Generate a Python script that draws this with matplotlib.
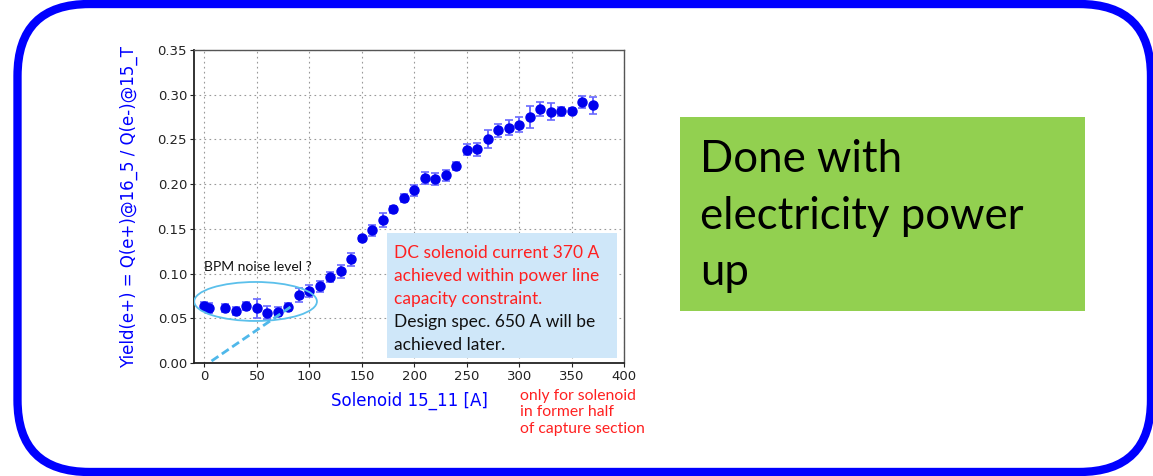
import matplotlib
matplotlib.use("Agg")
import matplotlib.pyplot as plt
from matplotlib.patches import FancyBboxPatch, Rectangle, Ellipse

# ---------------------------------------------------------------------------
# Data
# ---------------------------------------------------------------------------
current = [0, 4, 20, 30, 40, 50, 60, 70, 80, 90,
           100, 110, 120, 130, 140, 150, 160, 170, 180, 190,
           200, 210, 220, 230, 240, 250, 260, 270, 280, 290,
           300, 310, 320, 330, 340, 350, 360, 370]
yields = [0.064, 0.0615, 0.062, 0.058, 0.064, 0.061, 0.0563, 0.0574, 0.0623, 0.076,
          0.080, 0.0857, 0.096, 0.1026, 0.116, 0.1395, 0.1485, 0.160, 0.172, 0.185,
          0.193, 0.207, 0.206, 0.210, 0.2205, 0.2385, 0.239, 0.250, 0.260, 0.263,
          0.2665, 0.275, 0.2835, 0.281, 0.2815, 0.2815, 0.2915, 0.288]
errors = [0.004, 0.0058, 0.0045, 0.0048, 0.0045, 0.011, 0.007, 0.005, 0.0045, 0.0078,
          0.0067, 0.0065, 0.0052, 0.0074, 0.007, 0.003, 0.006, 0.0077, 0.004, 0.0045,
          0.0066, 0.0066, 0.007, 0.006, 0.0045, 0.006, 0.007, 0.010, 0.0077, 0.0085,
          0.0085, 0.012, 0.0078, 0.0095, 0.005, 0.0033, 0.0066, 0.010]

x_ticks = [0, 50, 100, 150, 200, 250, 300, 350, 400]
y_ticks = [0.00, 0.05, 0.10, 0.15, 0.20, 0.25, 0.30, 0.35]

box_red_lines = ["DC solenoid current 370 A",
                 "achieved within power line",
                 "capacity constraint."]
box_black_lines = ["Design spec. 650 A will be",
                   "achieved later."]
note_lines = ["only for solenoid", "in former half", "of capture section"]
green_lines = ["Done with", "electricity power", "up"]

W, H = 1153, 476
SANS = ["Lato", "DejaVu Sans"]


def fx(x):
    return x / W


def fy(y):
    # y measured from top of the image in pixels
    return 1 - y / H


fig = plt.figure(figsize=(W / 100, H / 100), dpi=100)

# ---------------------------------------------------------------------------
# Outer rounded frame (inches so corners stay circular)
# ---------------------------------------------------------------------------
frame = FancyBboxPatch((0.175, 0.04), 11.51 - 0.175, 4.72 - 0.04,
                       boxstyle="round,pad=0,rounding_size=0.72",
                       transform=fig.dpi_scale_trans, fill=False,
                       edgecolor="#0000ff", linewidth=6.0, zorder=0)
fig.patches.append(frame)

# ---------------------------------------------------------------------------
# Main plot
# ---------------------------------------------------------------------------
ax = fig.add_axes([fx(194), fy(363), fx(624) - fx(194), fy(50) - fy(363)])
ax.errorbar(current, yields, yerr=errors, fmt="o", color="#0000ee",
            ms=6.5, ecolor="#6a6aff", elinewidth=1.4, capsize=3, capthick=1.2,
            zorder=3)

ax.set_xlim(-10, 400)
ax.set_ylim(0, 0.35)
ax.set_xticks(x_ticks)
ax.set_yticks(y_ticks)
ax.set_yticklabels([f"{v:.2f}" for v in y_ticks])
ax.tick_params(labelsize=9.5, length=3, width=0.8, colors="#222222", pad=2)
ax.grid(True, linestyle=(0, (1.5, 3)), color="#999999", linewidth=0.8)
for side in ["left", "bottom"]:
    ax.spines[side].set_color("#222222")
    ax.spines[side].set_linewidth(1.3)
for side in ["top", "right"]:
    ax.spines[side].set_color("#555555")
    ax.spines[side].set_linewidth(1.0)

ax.set_xlabel("Solenoid 15_11 [A]", color="#0000ff", fontsize=12, labelpad=6)
ax.set_ylabel("Yield(e+) = Q(e+)@16_5 / Q(e-)@15_T", color="#0000ff",
              fontsize=12, labelpad=14)

# noise-level ellipse and pointer
ax.add_patch(Ellipse((48.7, 0.0688), 117, 0.0436, fill=False,
                     edgecolor="#5bc0eb", linewidth=1.3, zorder=4))
ax.plot([6.7, 82], [0.0022, 0.0626], color="#4fb8ea", linewidth=2.0,
        linestyle=(0, (3, 1.5)), zorder=4)
ax.text(fx(204), fy(271), "BPM noise level ?", transform=fig.transFigure,
        fontsize=10, family=SANS, color="#111111", va="baseline")

# ---------------------------------------------------------------------------
# Light blue comment box
# ---------------------------------------------------------------------------
fig.patches.append(Rectangle((fx(387), fy(358)), fx(617) - fx(387), fy(233) - fy(358),
                             transform=fig.transFigure, facecolor="#cfe7f9",
                             edgecolor="none", zorder=5))
baselines = [258, 281, 304, 327, 350]
for line, yb in zip(box_red_lines + box_black_lines, baselines):
    color = "#ff2020" if line in box_red_lines else "#111111"
    fig.text(fx(394), fy(yb), line, fontsize=12.5, family=SANS, color=color,
             va="baseline", zorder=6)

for i, line in enumerate(note_lines):
    fig.text(fx(520), fy(400 + 16.5 * i), line, fontsize=11.3, family=SANS,
             color="#ff2020", va="baseline")

# ---------------------------------------------------------------------------
# Green status box
# ---------------------------------------------------------------------------
fig.patches.append(Rectangle((fx(680), fy(311)), fx(1085) - fx(680), fy(117) - fy(311),
                             transform=fig.transFigure, facecolor="#92d050",
                             edgecolor="none", zorder=1))
for i, line in enumerate(green_lines):
    fig.text(fx(700), fy(172 + 56.5 * i), line, fontsize=31.5, family=SANS,
             color="#000000", va="baseline")

fig.savefig("out.png", dpi=100)
